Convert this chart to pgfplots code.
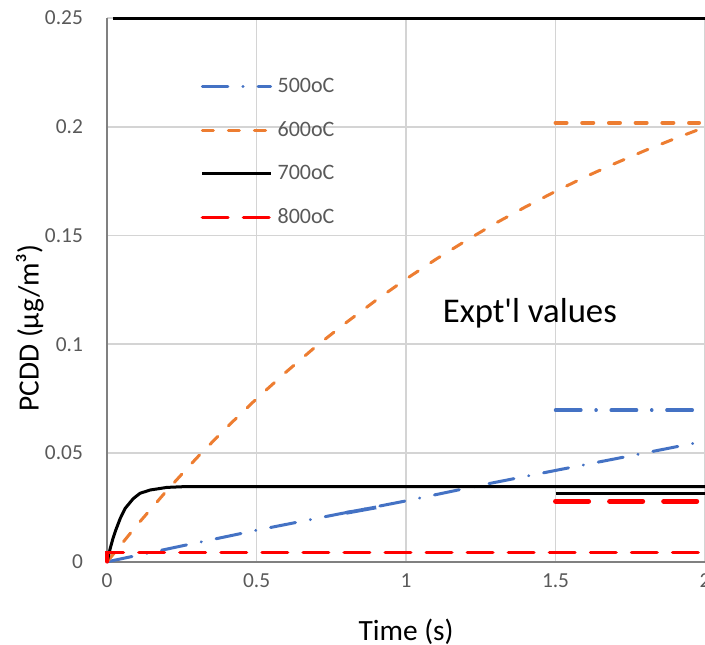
\documentclass[border=0pt]{standalone}
\usepackage{fontspec}
\setmainfont{Carlito}
\newfontfamily\rawfont{Carlito}[Ligatures=TeXOff]
\usepackage{pgfplots}
\pgfplotsset{compat=1.18}
\usetikzlibrary{calc}
\definecolor{cblue}{HTML}{4472C4}
\definecolor{corange}{HTML}{ED7D31}
\definecolor{cred}{HTML}{FF0000}
\definecolor{gridc}{HTML}{D4D4D4}
\definecolor{axisc}{HTML}{808080}
\definecolor{tickc}{HTML}{595959}
\begin{document}
\begin{tikzpicture}
\begin{axis}[
  scale only axis, width=447.75pt, height=407.25pt,
  xmin=0, xmax=2, ymin=0, ymax=0.25,
  xtick={0,0.5,1,1.5,2}, xticklabels={0,0.5,1,1.5,2},
  ytick={0,0.05,0.1,0.15,0.2,0.25}, yticklabels={0,0.05,0.1,0.15,0.2,0.25},
  grid=major, major grid style={draw=gridc, line width=1.3pt},
  axis lines*=left, axis line style={-, draw=axisc, line width=1.6pt},
  major tick length=0pt,
  /pgf/number format/assume math mode=true,
  tick label style={font=\fontsize{16}{19}\selectfont, text=tickc},
  xticklabel style={anchor=base, inner sep=0pt, yshift=-19.5pt},
  yticklabel style={anchor=east, inner sep=0pt, xshift=-18pt},
  clip=false,
  xlabel={Time (s)}, ylabel={PCDD (μg/m³)},
  xlabel style={at={(axis description cs:0.5,0)}, anchor=base, yshift=-59.25pt, font=\fontsize{22}{26}\selectfont},
  ylabel style={at={(axis description cs:-0.1295,0.43)}, anchor=center, font=\fontsize{22}{26}\selectfont},
  legend style={at={(axis cs:0.312,0.2237)}, anchor=north west, draw=none, fill=none,
    font=\fontsize{16.5}{19}\selectfont, text=tickc, inner sep=0pt, row sep=15.6pt, column sep=3pt,
    nodes={inner sep=1pt, text height=12pt, text depth=3pt}},
  legend image code/.code={\draw[#1] (0pt,0pt) -- (51pt,0pt);},
  legend cell align=left,
]
% 500oC model
\addplot[cblue, line width=2.25pt, line cap=round, dash pattern=on 19pt off 11.3pt on 0.1pt off 11.3pt]
  coordinates {(0,0) (0.25,0.0073) (0.5,0.0145) (0.75,0.0213) (1,0.0280) (1.25,0.0352) (1.5,0.0420) (1.75,0.0487) (2,0.0555)};
\addlegendentry{500oC}
% 600oC model
\addplot[corange, line width=2.25pt, line cap=round, dash pattern=on 8.25pt off 11.25pt]
  coordinates {(0,0) (0.1,0.0169) (0.2,0.0328) (0.3,0.0478) (0.4,0.0618) (0.5,0.0750) (0.6,0.0874) (0.7,0.0992) (0.8,0.1100) (0.9,0.1203) (1.0,0.1300) (1.1,0.1391) (1.2,0.1476) (1.3,0.1557) (1.4,0.1632) (1.5,0.1703) (1.6,0.1770) (1.7,0.1832) (1.8,0.1891) (1.9,0.1946) (2.0,0.1998)};
\addlegendentry{600oC}
% 700oC model
\addplot[black, line width=2.25pt, line join=round]
  coordinates {(0,0) (0.01,0.006) (0.02,0.011) (0.03,0.015) (0.044,0.020) (0.06,0.0245) (0.087,0.029) (0.11,0.0315) (0.144,0.033) (0.2,0.0342) (0.25,0.0345) (2,0.0345)};
\addlegendentry{700oC}
% 800oC model
\addplot[cred, line width=2.6pt, line cap=round, dash pattern=on 19.15pt off 11.6pt]
  coordinates {(0,0) (0,0.0043) (2,0.0043)};
\addlegendentry{800oC}
% experimental values
\addplot[forget plot, corange, line width=3pt, line cap=round, dash pattern=on 8.25pt off 11.75pt]
  coordinates {(1.5,0.2018) (1.98,0.2018)};
\addplot[forget plot, cblue, line width=2.6pt, line cap=round, dash pattern=on 19pt off 11.3pt on 0.1pt off 11.3pt]
  coordinates {(1.5,0.0697) (1.967,0.0697)};
\addplot[forget plot, black, line width=2.25pt]
  coordinates {(1.5,0.0312) (2,0.0312)};
\addplot[forget plot, cred, line width=3.75pt, line cap=round, dash pattern=on 24.75pt off 15.75pt]
  coordinates {(1.5,0.0278) (2,0.0278)};
\addplot[forget plot, black, line width=2.25pt]
  coordinates {(0.02,0.25) (2,0.25)};
\addplot[forget plot, cblue, line width=2.8pt]
  coordinates {(0.80,0.0225) (0.90,0.0250)};
\node[anchor=base, font=\rawfont\fontsize{26}{30}\selectfont] at (axis cs:1.414,0.1102) {Expt'l values};
\end{axis}
\pgfresetboundingbox
\useasboundingbox ($(current axis.south west)+(-80.25pt,-62.25pt)$) rectangle ($(current axis.north east)+(0pt,13.5pt)$);
\end{tikzpicture}
\end{document}
